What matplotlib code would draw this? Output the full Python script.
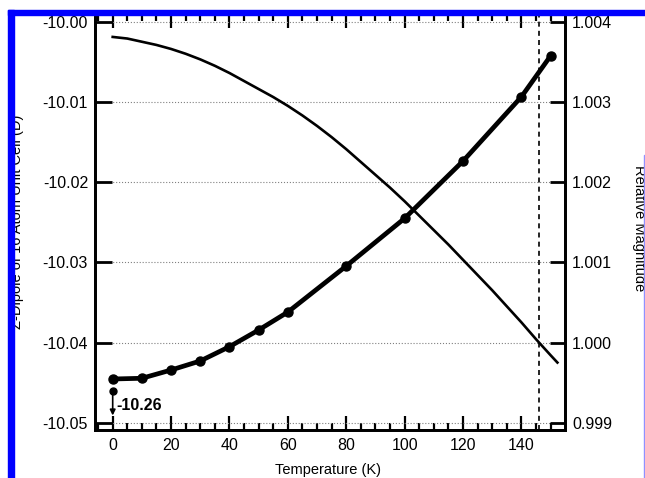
import matplotlib
matplotlib.use("Agg")
import matplotlib.pyplot as plt
from matplotlib.patches import Rectangle
from matplotlib.ticker import MultipleLocator, FormatStrFormatter

plt.rcParams['font.family'] = ['Liberation Sans', 'DejaVu Sans']

# z-dipole of the 16 atom cell vs temperature (left axis)
temps = [0, 10, 20, 30, 40, 50, 60, 80, 100, 120, 140, 150]
dipole = [-10.04455, -10.04446, -10.04343, -10.0423, -10.04052, -10.03844,
          -10.0362, -10.03046, -10.02451, -10.01737, -10.00935, -10.00424]

# relative magnitude curve (right axis)
rel_temps = [0, 5, 10, 15, 20, 25, 30, 35, 40, 45, 50, 55, 60, 65, 70, 75, 80,
             85, 90, 95, 100, 105, 110, 115, 120, 125, 130, 135, 140, 145, 150, 152.3]
rel_mag = [1.00381, 1.00379, 1.00375, 1.00371, 1.00366, 1.00360, 1.00353, 1.00345,
           1.00336, 1.00326, 1.00316, 1.00306, 1.00295, 1.00283, 1.00270, 1.00256,
           1.00241, 1.00225, 1.00209, 1.00193, 1.00176, 1.00158, 1.00140, 1.00122,
           1.00103, 1.00084, 1.00065, 1.00045, 1.00025, 1.00004, 0.99984, 0.99975]

cross_temp = 146
offscale_label = "-10.26"
offscale_marker = -10.0461
offscale_tip = -10.0491

fig = plt.figure(figsize=(6.45, 4.78), dpi=100)
ax = fig.add_axes([95/645, 1 - 430/478, 470/645, 416/478])
ax2 = ax.twinx()

ax.plot(temps, dipole, color='black', linewidth=3.4, marker='o', markersize=6.5,
        solid_joinstyle='round', solid_capstyle='round', zorder=3)
ax.axvline(cross_temp, color='black', linestyle=(0, (3, 2.5)), linewidth=1.2)

# off-scale point at T=0 marked with an arrow
ax.plot([0], [offscale_marker], 'ko', markersize=5)
ax.annotate('', xy=(0, offscale_tip), xytext=(0, offscale_marker),
            arrowprops=dict(arrowstyle='-|>', color='black', lw=1.2, mutation_scale=8,
                            shrinkA=0, shrinkB=0))
ax.text(1.4, -10.0478, offscale_label, fontsize=11.5, fontweight='bold', va='center', ha='left')

ax2.plot(rel_temps, rel_mag, color='black', linewidth=1.9, solid_joinstyle='round')

ax.set_xlim(-6.06, 154.9)
ax.set_ylim(-10.05091, -9.99904)
ax2.set_ylim(0.998909, 1.004096)

ax.set_xticks([0, 20, 40, 60, 80, 100, 120, 140])
ax.xaxis.set_minor_locator(MultipleLocator(5))
ax.set_yticks([-10.05, -10.04, -10.03, -10.02, -10.01, -10.00])
ax.yaxis.set_major_formatter(FormatStrFormatter('%.2f'))
ax2.set_yticks([0.999, 1.000, 1.001, 1.002, 1.003, 1.004])
ax2.yaxis.set_major_formatter(FormatStrFormatter('%.3f'))

ax.tick_params(axis='x', which='major', direction='in', length=10, width=1.6,
               top=True, labelsize=11.5, pad=6)
ax.tick_params(axis='x', which='minor', direction='in', length=5, width=1.6, top=True)
ax.tick_params(axis='y', direction='in', length=12, width=2, labelsize=11.5, pad=5)
ax2.tick_params(axis='y', direction='in', length=11, width=2, labelsize=11.5, pad=5)

ax.yaxis.grid(True, linestyle=':', color='gray', linewidth=0.8)

for a in (ax, ax2):
    for s in a.spines.values():
        s.set_linewidth(2)

fig.text(17.5/645, 1 - 222/478, 'Z-Dipole of 16 Atom Unit Cell (D)', rotation=90,
         ha='center', va='center', fontsize=10.5)
fig.text(639.5/645, 1 - 228/478, 'Relative Magnitude', rotation=270,
         ha='center', va='center', fontsize=10.5)
fig.text(328/645, 1 - 477/478, 'Temperature (K)', ha='center', va='bottom', fontsize=10.5)

# blue frame along the top and left edges
fig.add_artist(Rectangle((8/645, 1 - 15/478), 637/645, 5.5/478, transform=fig.transFigure,
                         color='#0000ff', zorder=10))
fig.add_artist(Rectangle((8/645, 0), 5.5/645, 1 - 9.5/478, transform=fig.transFigure,
                         color='#0000ff', zorder=10))
fig.add_artist(Rectangle((643.5/645, 0), 1/645, 1 - 155/478, transform=fig.transFigure,
                         color='#9090ff', zorder=10))

fig.savefig('out.png', dpi=100)
